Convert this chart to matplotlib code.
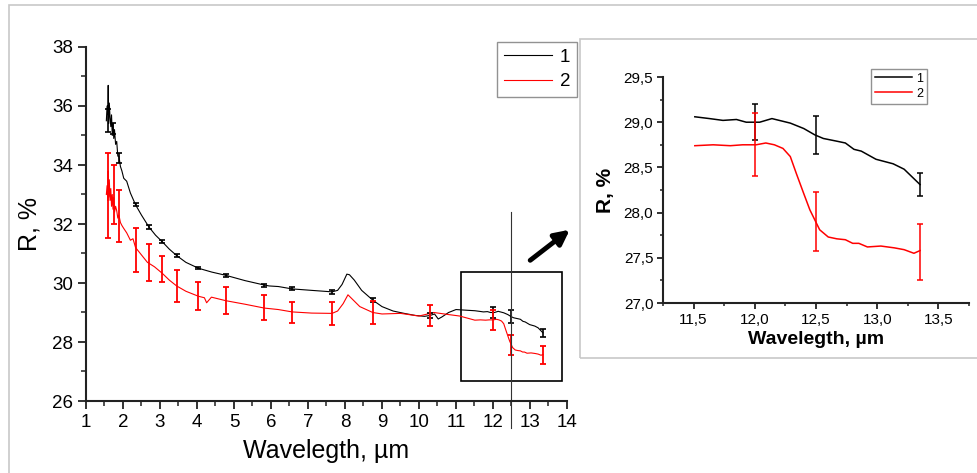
import matplotlib
matplotlib.use("Agg")
import matplotlib.pyplot as plt
from matplotlib.patches import Rectangle, FancyArrowPatch
from matplotlib.ticker import MultipleLocator, FuncFormatter

plt.rcParams['font.family'] = ['Liberation Sans', 'DejaVu Sans']

# spectrum 1 (black)
wl1 = [1.55, 1.57, 1.59, 1.60, 1.61, 1.63, 1.65, 1.67, 1.69, 1.71, 1.73, 1.75,
       1.77, 1.80, 1.83, 1.86, 1.89, 1.93, 1.97, 2.02, 2.10, 2.20, 2.34, 2.50,
       2.70, 2.88, 3.06, 3.25, 3.45, 3.70, 4.04, 4.40, 4.78, 5.30, 5.82, 5.95,
       6.20, 6.57, 7.10, 7.65, 7.80, 7.92, 8.05, 8.12, 8.25, 8.45, 8.75, 9.00,
       9.30, 9.60, 9.90, 10.15, 10.30, 10.42, 10.52, 10.62, 10.80, 11.00, 11.25,
       11.51, 11.63, 11.74, 11.85, 11.93, 12.04, 12.14, 12.29, 12.40, 12.49,
       12.56, 12.67, 12.74, 12.81, 12.87, 12.99, 13.13, 13.22, 13.35]
r1 = [35.5, 36.0, 35.7, 36.7, 35.4, 36.1, 35.6, 35.3, 35.7, 35.0, 35.4, 34.9,
      35.2, 34.7, 34.8, 34.3, 34.3, 33.95, 33.8, 33.55, 33.45, 33.05, 32.65, 32.3,
      31.9, 31.62, 31.4, 31.15, 30.93, 30.7, 30.5, 30.37, 30.26, 30.08, 29.93, 29.9,
      29.88, 29.8, 29.75, 29.7, 29.75, 29.95, 30.3, 30.28, 30.1, 29.75, 29.42, 29.2,
      29.05, 28.97, 28.9, 28.87, 28.9, 28.95, 28.78, 28.85, 29.0, 29.1, 29.08,
      29.06, 29.04, 29.02, 29.03, 29.0, 29.0, 29.04, 28.99, 28.93, 28.86,
      28.82, 28.79, 28.77, 28.7, 28.68, 28.59, 28.54, 28.48, 28.31]

# spectrum 2 (red)
wl2 = [1.55, 1.57, 1.59, 1.60, 1.61, 1.63, 1.65, 1.67, 1.69, 1.71, 1.73, 1.75,
       1.77, 1.80, 1.83, 1.86, 1.89, 1.93, 1.97, 2.02, 2.10, 2.20, 2.27, 2.34,
       2.50, 2.66, 2.85, 3.06, 3.25, 3.45, 3.70, 4.04, 4.20, 4.26, 4.39, 4.78,
       5.30, 5.82, 6.20, 6.57, 7.10, 7.65, 7.80, 7.95, 8.08, 8.20, 8.40, 8.75,
       9.00, 9.50, 10.00, 10.40, 10.80, 11.10, 11.51, 11.66, 11.80, 11.90, 12.01,
       12.09, 12.16, 12.23, 12.29, 12.34, 12.40, 12.45, 12.49, 12.53, 12.60, 12.67,
       12.74, 12.80, 12.85, 12.92, 13.03, 13.14, 13.22, 13.30, 13.35]
r2 = [33.0, 33.3, 32.8, 33.8, 32.9, 33.5, 32.8, 33.2, 32.6, 33.0, 32.5, 32.9,
      32.4, 32.6, 32.45, 32.2, 32.3, 32.05, 31.95, 31.85, 31.7, 31.45, 31.5, 31.2,
      30.95, 30.7, 30.55, 30.33, 30.1, 29.9, 29.72, 29.55, 29.5, 29.33, 29.52, 29.4,
      29.28, 29.15, 29.1, 29.02, 28.98, 28.97, 29.05, 29.3, 29.6, 29.45, 29.2, 29.0,
      28.95, 28.97, 28.88, 29.0, 28.93, 28.88, 28.74, 28.75, 28.74, 28.75, 28.75,
      28.77, 28.75, 28.71, 28.62, 28.43, 28.21, 28.03, 27.92, 27.81, 27.73, 27.71,
      27.7, 27.66, 27.66, 27.62, 27.63, 27.61, 27.59, 27.55, 27.58]

# error bars
eb1_x = [1.60, 1.74, 1.88, 2.34, 2.70, 3.06, 3.45, 4.04, 4.78, 5.82, 6.57, 7.65,
         8.75, 10.30, 12.00, 12.50, 13.35]
eb1_y = [35.52, 35.23, 34.23, 32.65, 31.9, 31.4, 30.93, 30.5, 30.26, 29.93, 29.8,
         29.7, 29.42, 28.9, 29.0, 28.86, 28.31]
eb1_err = [0.39, 0.18, 0.17, 0.05, 0.07, 0.06, 0.05, 0.04, 0.05, 0.05, 0.05, 0.07,
           0.06, 0.07, 0.2, 0.21, 0.125]

eb2_x = [1.59, 1.77, 1.89, 2.34, 2.70, 3.06, 3.45, 4.04, 4.78, 5.82, 6.57, 7.65,
         8.75, 10.30, 12.00, 12.50, 13.35]
eb2_y = [32.97, 33.0, 32.27, 31.13, 30.69, 30.48, 29.9, 29.56, 29.4, 29.17, 29.0,
         28.97, 29.0, 28.9, 28.75, 27.9, 27.56]
eb2_err = [1.45, 1.0, 0.88, 0.75, 0.62, 0.44, 0.55, 0.48, 0.46, 0.42, 0.37, 0.4,
           0.4, 0.37, 0.35, 0.33, 0.31]

labels = ['1', '2']
RED = '#ff0000'
AXC = '#222222'

W, H = 978, 473
fig = plt.figure(figsize=(W / 100, H / 100), dpi=100)

def fx(px):
    return px / W

def fy(py):
    return 1 - py / H

# light frames around the figure and the zoom panel (open to the right/bottom)
fig.patches.append(Rectangle((fx(9), fy(560)), fx(1100), fy(5) - fy(560),
                             transform=fig.transFigure, fill=False,
                             ec='#c8c8c8', lw=1.2))
fig.patches.append(Rectangle((fx(580), fy(358)), fx(500), fy(39) - fy(358),
                             transform=fig.transFigure, fill=False,
                             ec='#c8c8c8', lw=1.2))


def style_axes(ax, tick_size, major_len, minor_len):
    for s in ('top', 'right'):
        ax.spines[s].set_visible(False)
    for s in ('left', 'bottom'):
        ax.spines[s].set_color(AXC)
        ax.spines[s].set_linewidth(1.5)
    ax.tick_params(which='major', direction='out', length=major_len, width=1.3,
                   color=AXC, labelsize=tick_size, pad=3)
    ax.tick_params(which='minor', direction='out', length=minor_len, width=1.1,
                   color=AXC)


# main panel
ax = fig.add_axes([fx(86), fy(401), fx(567) - fx(86), fy(47) - fy(401)])
ax.plot(wl1, r1, color='black', lw=0.8, label=labels[0])
ax.plot(wl2, r2, color=RED, lw=0.8, label=labels[1])
ax.errorbar(eb1_x, eb1_y, yerr=eb1_err, fmt='none', ecolor='black',
            elinewidth=1.2, capsize=2.5, capthick=1.2)
ax.errorbar(eb2_x, eb2_y, yerr=eb2_err, fmt='none', ecolor=RED,
            elinewidth=1.3, capsize=2.5, capthick=1.3)
ax.set_xlim(1, 14)
ax.set_ylim(26, 38)
ax.xaxis.set_major_locator(MultipleLocator(1))
ax.xaxis.set_minor_locator(MultipleLocator(0.5))
ax.yaxis.set_major_locator(MultipleLocator(2))
ax.yaxis.set_minor_locator(MultipleLocator(1))
style_axes(ax, 13.5, 6, 3.5)
ax.set_xlabel('Wavelegth, µm', fontsize=18, labelpad=6)
ax.set_ylabel('R, %', fontsize=18, labelpad=8)

# zoom region marker
ax.add_patch(Rectangle((11.14, 26.68), 2.72, 3.69, fill=False, ec='black', lw=1.2))
ax.plot([12.5, 12.5], [25.1, 32.4], color='#333333', lw=0.8, clip_on=False)

leg = ax.legend(loc='upper right', bbox_to_anchor=(fx(577), fy(42)),
                bbox_transform=fig.transFigure, borderaxespad=0,
                fancybox=False, edgecolor='#777777', fontsize=13.5,
                handlelength=2.6, handletextpad=0.4, borderpad=0.35,
                labelspacing=0.4)
leg.get_frame().set_linewidth(1.0)

# arrow towards the zoomed panel
fig.add_artist(FancyArrowPatch(
    (fx(528), fy(262)), (fx(572), fy(228)), transform=fig.transFigure,
    arrowstyle='-|>', mutation_scale=22, lw=3.5, color='black'))

# zoomed panel
ax2 = fig.add_axes([fx(663), fy(303), fx(969) - fx(663), fy(77) - fy(303)])
i1 = [i for i, w in enumerate(wl1) if w >= 11.5]
i2 = [i for i, w in enumerate(wl2) if w >= 11.5]
ax2.plot([wl1[i] for i in i1], [r1[i] for i in i1], color='black', lw=1.1,
         label=labels[0])
ax2.plot([wl2[i] for i in i2], [r2[i] for i in i2], color=RED, lw=1.1,
         label=labels[1])
ax2.errorbar(eb1_x[-3:], eb1_y[-3:], yerr=eb1_err[-3:], fmt='none',
             ecolor='black', elinewidth=1.1, capsize=2, capthick=1.1)
ax2.errorbar(eb2_x[-3:], eb2_y[-3:], yerr=eb2_err[-3:], fmt='none',
             ecolor=RED, elinewidth=1.1, capsize=2, capthick=1.1)
ax2.set_xlim(11.25, 13.75)
ax2.set_ylim(27.0, 29.5)
ax2.xaxis.set_major_locator(MultipleLocator(0.5))
ax2.xaxis.set_minor_locator(MultipleLocator(0.25))
ax2.yaxis.set_major_locator(MultipleLocator(0.5))
ax2.yaxis.set_minor_locator(MultipleLocator(0.25))
comma = FuncFormatter(lambda v, p: f'{v:.1f}'.replace('.', ','))
ax2.xaxis.set_major_formatter(comma)
ax2.yaxis.set_major_formatter(comma)
style_axes(ax2, 11, 4, 2.5)
ax2.set_xlabel('Wavelegth, µm', fontsize=14, fontweight='bold', labelpad=3)
ax2.set_ylabel('R, %', fontsize=15, fontweight='bold', labelpad=6)
leg2 = ax2.legend(loc='upper right', bbox_to_anchor=(fx(927), fy(69)),
                  bbox_transform=fig.transFigure, borderaxespad=0,
                  fancybox=False, edgecolor='#777777', fontsize=9,
                  handlelength=3.0, handletextpad=0.3, borderpad=0.3,
                  labelspacing=0.25)
leg2.get_frame().set_linewidth(1.0)

fig.savefig('out.png', dpi=100)
